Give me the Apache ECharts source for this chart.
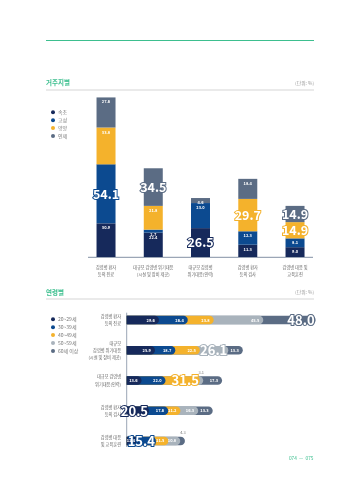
<!DOCTYPE html>
<html><head><meta charset="utf-8">
<script src="https://cdn.jsdelivr.net/npm/echarts@6/dist/echarts.min.js"></script>
<style>html,body{margin:0;padding:0;background:#fff}#c{width:351px;height:480px}</style>
</head><body><div id="c"></div>
<script>
const FONT = '"Noto Sans CJK KR", "Noto Sans", sans-serif';

// ---- 거주지별 (stacked columns) ----
const resCategories = ['감염병 환자\n등의 진료', '대규모 감염병 위기대응\n(시설 및 장비 제공)', '대규모 감염병\n위기대응(인력)', '감염병 환자\n등의 검사', '감염병 대응 및\n교육훈련'];
const resNames = ['속초', '고성', '양양', '인제'];
const resSokcho = [30.9, 22.4, 26.5, 11.3, 9.0];
const resGoseong = [54.1, 2.7, 23.0, 12.3, 8.1];
const resYangyang = [33.8, 21.8, 0, 29.7, 14.9];
const resInje = [27.6, 34.5, 4.6, 18.4, 14.9];

// ---- 연령별 (horizontal stacked) ----
const ageCategories = ['감염병 환자\n등의 진료', '대규모\n감염병 위기대응\n(시설 및 장비 제공)', '대규모 감염병\n위기대응(인력)', '감염병 환자\n등의 검사', '감염병 대응\n및 교육훈련'];
const ageNames = ['20~29세', '30~39세', '40~49세', '50~59세', '60세 이상'];
const age20s = [29.6, 25.9, 13.6, 20.5, 11.4];
const age30s = [26.4, 18.7, 22.0, 17.6, 15.4];
const age40s = [23.8, 22.5, 31.5, 11.2, 11.5];
const age50s = [45.5, 26.1, 3.1, 16.3, 10.8];
const age60s = [48.0, 13.3, 17.3, 13.3, 4.3];

const resColors = ['#16295b', '#0c4a90', '#f4b22c', '#5b6c84'];
const ageColors = ['#16295b', '#0c4a90', '#f4b22c', '#a9b3bc', '#5b6c84'];

const resData = [resSokcho, resGoseong, resYangyang, resInje];
const ageData = [age20s, age30s, age40s, age50s, age60s];

const resMax = resCategories.map((_, j) => Math.max(...resData.map(a => a[j])));
const ageMax = ageCategories.map((_, j) => Math.max(...ageData.map(a => a[j])));

const series = [];
resData.forEach((arr, i) => {
  series.push({
    name: resNames[i], type: 'bar', stack: 'res', xAxisIndex: 0, yAxisIndex: 0,
    barWidth: 19, itemStyle: { color: resColors[i] },
    label: { show: true, position: 'insideTop', distance: 2.5, fontSize: 4, fontWeight: 'bold', color: '#fff', fontFamily: FONT,
      formatter: p => p.value ? Number(p.value).toFixed(1) : '' },
    data: arr.map((v, j) => v === resMax[j] ? {
      value: v,
      label: { position: 'inside', fontSize: 12.5, fontWeight: 'bold', color: '#fff', textBorderColor: resColors[i], textBorderWidth: 2 }
    } : { value: v })
  });
});

// cumulative overlapped bars (drawn back to front) so each segment has a rounded end
const cum = ageData.map((arr, i) => arr.map((_, j) => {
  let s = 0; for (let k = 0; k <= i; k++) s += ageData[k][j]; return +s.toFixed(2);
}));
for (let i = ageData.length - 1; i >= 0; i--) {
  series.push({
    name: ageNames[i], type: 'bar', xAxisIndex: 1, yAxisIndex: 1,
    barWidth: 8.5, barGap: '-100%',
    itemStyle: { color: ageColors[i], borderRadius: [0, 4.25, 4.25, 0] },
    label: { show: true, position: 'insideRight', distance: 4, fontSize: 4, fontWeight: 'bold', color: '#fff', fontFamily: FONT,
      formatter: p => ageData[i][p.dataIndex].toFixed(1) },
    data: cum[i].map((c, j) => {
      const v = ageData[i][j];
      if (v === ageMax[j]) return { value: c, label: { distance: 1, fontSize: 13, fontWeight: 'bold', color: '#fff', textBorderColor: ageColors[i], textBorderWidth: 2 } };
      if (v < 5) return { value: c, label: { position: ['100%', -4], align: 'center', verticalAlign: 'middle', offset: [-2, 0], color: '#777', fontWeight: 'normal' } };
      return { value: c };
    })
  });
}

const chart = echarts.init(document.getElementById('c'), null, { renderer: 'canvas' });
const G = '#3dbf8f', AX = '#9ba6b6';
chart.setOption({
  animation: false,
  textStyle: { fontFamily: FONT },
  grid: [
    { left: 82.4, top: 93.5, width: 236.25, height: 163.5 },
    { left: 126.7, top: 305, width: 218, height: 151 }
  ],
  xAxis: [
    { gridIndex: 0, type: 'category', data: resCategories, axisLine: { show: false }, axisTick: { show: false },
      axisLabel: { interval: 0, fontSize: 4.2, lineHeight: 7, color: '#666', margin: 7, fontFamily: FONT } },
    { gridIndex: 1, type: 'value', min: 0, max: 200, show: false, splitLine: { show: false } }
  ],
  yAxis: [
    { gridIndex: 0, type: 'value', min: 0, max: 150, show: false, splitLine: { show: false } },
    { gridIndex: 1, type: 'category', data: ageCategories, inverse: true, axisLine: { show: false }, axisTick: { show: false },
      axisLabel: { interval: 0, fontSize: 4.2, lineHeight: 7.3, color: '#666', margin: 5.7, align: 'right', fontFamily: FONT } }
  ],
  legend: [
    { data: resNames, orient: 'vertical', left: 46, top: 104.8, icon: 'circle', itemWidth: 4, itemHeight: 4, itemGap: 2.9,
      selectedMode: false, textStyle: { fontSize: 5, lineHeight: 5, color: '#777', fontFamily: FONT, padding: [0, 0, 0, -2] } },
    { data: ageNames, orient: 'vertical', left: 46, top: 311.8, icon: 'circle', itemWidth: 4, itemHeight: 4, itemGap: 2.9,
      selectedMode: false, textStyle: { fontSize: 5, lineHeight: 5, color: '#777', fontFamily: FONT, padding: [0, 0, 0, -2] } }
  ],
  graphic: [
    { type: 'line', shape: { x1: 46, y1: 40.5, x2: 314, y2: 40.5 }, style: { stroke: G, lineWidth: 1 } },
    { type: 'text', x: 46, y: 83, style: { text: '거주지별', fill: G, font: 'bold 6.5px ' + FONT, verticalAlign: 'middle' } },
    { type: 'text', x: 314, y: 83, style: { text: '(단위: %)', fill: '#999', font: '4.8px ' + FONT, align: 'right', verticalAlign: 'middle' } },
    { type: 'line', shape: { x1: 46, y1: 90, x2: 314, y2: 90 }, style: { stroke: '#d6d6d6', lineWidth: 1.2 } },
    { type: 'line', shape: { x1: 88, y1: 257.3, x2: 313, y2: 257.3 }, style: { stroke: AX, lineWidth: 1.2 } },
    { type: 'text', x: 46, y: 292.5, style: { text: '연령별', fill: G, font: 'bold 6.5px ' + FONT, verticalAlign: 'middle' } },
    { type: 'text', x: 314, y: 292.5, style: { text: '(단위: %)', fill: '#999', font: '4.8px ' + FONT, align: 'right', verticalAlign: 'middle' } },
    { type: 'line', shape: { x1: 46, y1: 299, x2: 314, y2: 299 }, style: { stroke: '#d6d6d6', lineWidth: 1.2 } },
    { type: 'line', shape: { x1: 126.7, y1: 312.7, x2: 126.7, y2: 447 }, style: { stroke: AX, lineWidth: 1 } },
    { type: 'text', x: 313.5, y: 457.7, style: { text: '074  —  075', fill: G, font: '4.8px ' + FONT, align: 'right', verticalAlign: 'middle' } }
  ],
  series: series
});
</script></body></html>
